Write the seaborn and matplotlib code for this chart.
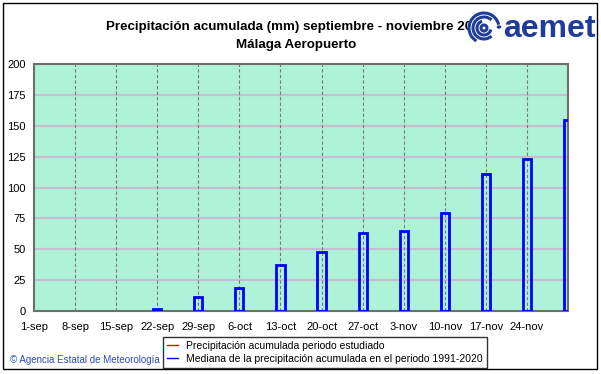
import numpy as np
import pandas as pd
import matplotlib
matplotlib.use("Agg")
import matplotlib.pyplot as plt
import seaborn as sns
from matplotlib.lines import Line2D
from matplotlib.patches import Rectangle, Arc, Circle

# x axis: weekly ticks, 1 sep .. 1 dec
start_date = "2020-09-01"
end_date = "2020-12-01"
tick_labels = ["1-sep", "8-sep", "15-sep", "22-sep", "29-sep", "6-oct", "13-oct",
               "20-oct", "27-oct", "3-nov", "10-nov", "17-nov", "24-nov"]

# median accumulated precipitation 1991-2020 (mm)
median_dates = ["2020-09-22", "2020-09-29", "2020-10-06", "2020-10-13", "2020-10-20",
                "2020-10-27", "2020-11-03", "2020-11-10", "2020-11-17", "2020-11-24",
                "2020-12-01"]
median_mm = [1.5, 11.5, 19, 37.5, 48, 63, 65, 79, 111, 123, 155]

# studied period (no data drawn in the reference)
observed_dates = []
observed_mm = []

y_ticks = [0, 25, 50, 75, 100, 125, 150, 175, 200]

t0 = pd.Timestamp(start_date)
total_days = (pd.Timestamp(end_date) - t0).days
df = pd.DataFrame({
    "day": [(pd.Timestamp(d) - t0).days for d in median_dates],
    "mm": median_mm,
})

plt.rcParams["font.family"] = ["Liberation Sans", "DejaVu Sans"]

fig = plt.figure(figsize=(6.01, 3.74), dpi=100)
ax = fig.add_axes([34 / 601, 63 / 374, 534 / 601, 247 / 374])
ax.set_facecolor("#aef2d8")

sns.barplot(data=df, x="day", y="mm", native_scale=True, width=0.2, fill=False,
            color="#0000ff", linewidth=2, errorbar=None, ax=ax, zorder=3)
ax.plot([(pd.Timestamp(d) - t0).days for d in observed_dates], observed_mm,
        color="red", lw=1.5, zorder=4)

ax.set_xlim(0, total_days)
ax.set_ylim(0, 200)
ax.set_xticks(np.arange(0, total_days, 7))
ax.set_xticklabels(tick_labels, fontsize=8)
ax.set_yticks(y_ticks)
ax.set_yticklabels([str(v) for v in y_ticks], fontsize=8)
ax.tick_params(length=0, pad=6)
ax.tick_params(axis="x", pad=8)
ax.set_xlabel("")
ax.set_ylabel("")

for v in y_ticks[1:-1]:
    ax.axhline(v, color="#c8bccf", lw=1.6, zorder=1)
for d in range(7, total_days, 7):
    ax.axvline(d, color="#7a7a7a", lw=0.8, ls=(0, (3, 2)), zorder=2)
for s in ax.spines.values():
    s.set_color("#6e6e6e")
    s.set_linewidth(1.5)

fig.text(296 / 601, 1 - 27 / 374, "Precipitación acumulada (mm) septiembre - noviembre 2020",
         ha="center", va="center", fontsize=9.6, weight="bold", zorder=0.5)
fig.text(296 / 601, 1 - 45 / 374, "Málaga Aeropuerto",
         ha="center", va="center", fontsize=9.6, weight="bold")

# aemet logo, roughly: swirl + word
logo_blue = "#1f3c9a"
cx, cy = 484 / 601, 1 - 28 / 374
fig.patches.append(Circle((cx, cy), 16 / 601, transform=fig.transFigure,
                          facecolor="white", edgecolor="none", zorder=0.8))
for r, t1, t2 in [(15, 20, 250), (11, 60, 300), (7, 100, 340), (3, 0, 360)]:
    fig.patches.append(Arc((cx, cy), 2 * r / 601, 2 * r / 374, theta1=t1, theta2=t2,
                           transform=fig.transFigure, color=logo_blue, lw=2.2, zorder=1))
fig.patches.append(Circle((499 / 601, 1 - 27 / 374), 1.6 / 601, transform=fig.transFigure,
                          color=logo_blue))
fig.text(503 / 601, 1 - 29 / 374, "aemet", ha="left", va="center", fontsize=23,
         weight="bold", color=logo_blue)

fig.text(10 / 601, 14 / 374, "© Agencia Estatal de Meteorología", ha="left", va="center",
         fontsize=7, color="#2a4ec0")

handles = [Line2D([], [], color="red", lw=1),
           Line2D([], [], color="#0000ff", lw=1)]
labels = ["Precipitación acumulada periodo estudiado",
          "Mediana de la precipitación acumulada en el periodo 1991-2020"]
leg = fig.legend(handles, labels, loc="lower left", bbox_to_anchor=(163 / 601, 6 / 374),
                 fontsize=7.5, frameon=True, fancybox=False, handlelength=1.0,
                 handletextpad=0.8, borderpad=0.4, labelspacing=0.3, borderaxespad=0)
leg.get_frame().set_edgecolor("black")
leg.get_frame().set_linewidth(1)

fig.patches.append(Rectangle((3 / 601, 5 / 374), 594 / 601, 366 / 374,
                             transform=fig.transFigure, fill=False,
                             edgecolor="black", lw=1))

fig.savefig("out.png", dpi=100)
